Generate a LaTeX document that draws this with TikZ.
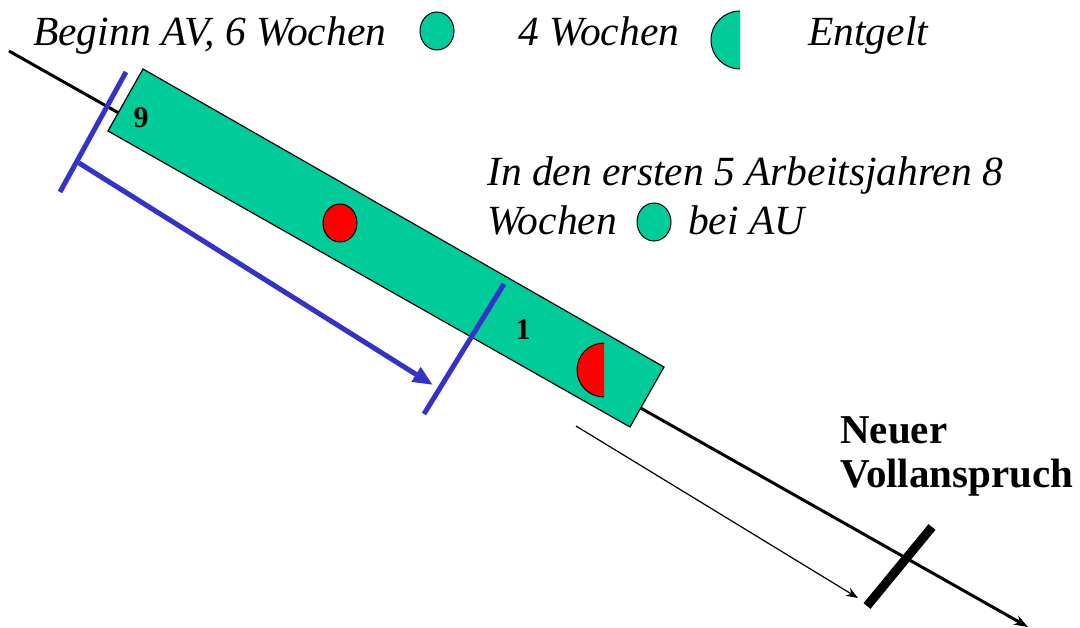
\documentclass[tikz,border=0pt]{standalone}
\usepackage{fontspec}
\setmainfont{Liberation Serif}
\usetikzlibrary{arrows.meta}
\definecolor{avgreen}{RGB}{0,204,153}
\definecolor{avblue}{RGB}{51,51,204}
\definecolor{avred}{RGB}{255,0,0}
\tikzset{
  itxt/.style={anchor=base west, inner sep=0pt, font=\fontsize{41.5}{48}\selectfont\itshape},
  btxt/.style={anchor=base west, inner sep=0pt, font=\fontsize{41}{48}\selectfont\bfseries},
  numtxt/.style={inner sep=0pt, font=\fontsize{30}{34}\selectfont\bfseries},
  timeline/.style={line width=3pt, -{Stealth[length=14pt,width=10pt]}},
  bluebar/.style={avblue, line width=5pt},
  dot/.style={draw=black, line width=1pt},
}
\begin{document}
\begin{tikzpicture}[x=1pt,y=-1pt]
\useasboundingbox (0,0) rectangle (1080,628);
% main time line
\coordinate (tstart) at (9,51);
\coordinate (tend) at (1028,627);
\draw[timeline] (tstart) -- (tend);
% green period bar
\coordinate (r1) at (143,69);
\coordinate (r2) at (664,367);
\coordinate (r3) at (630,427);
\coordinate (r4) at (108,131);
\draw[fill=avgreen, line width=1.2pt] (r1) -- (r2) -- (r3) -- (r4) -- cycle;
\node[numtxt] (n9) at (141,118) {9};
\node[numtxt] (n1) at (523,330) {1};
% red full circle
\draw[dot, fill=avred] (340,223) ellipse [x radius=17, y radius=19];
% red half circle
\fill[avred] (604,343) arc[start angle=270, end angle=90, radius=27] -- cycle;
\draw[line width=1pt] (604,343) arc[start angle=270, end angle=90, radius=27];
% blue bracket
\coordinate (b1a) at (126,72);
\coordinate (b1b) at (60,192);
\coordinate (b2a) at (504,284);
\coordinate (b2b) at (424,414);
\coordinate (bs) at (79,163);
\coordinate (be) at (433,385);
\draw[bluebar] (b1a) -- (b1b);
\draw[bluebar] (b2a) -- (b2b);
\draw[bluebar, -{Triangle[length=20pt,width=16pt]}] (bs) -- (be);
% thin arrow
\coordinate (as) at (576,426);
\coordinate (ae) at (858,598);
\draw[line width=1.2pt, -{Stealth[length=12pt,width=9pt]}] (as) -- (ae);
% thick tick
\coordinate (k1) at (932,527);
\coordinate (k2) at (867,606);
\draw[line width=9pt] (k1) -- (k2);
% legend
\node[itxt] (beginn) at (33,46) {Beginn AV, 6 Wochen};
\draw[dot, fill=avgreen] (437,31) ellipse [x radius=17, y radius=19];
\node[itxt] (vier) at (518,46) {4 Wochen};
\fill[avgreen] (740,11) arc[start angle=270, end angle=90, radius=29] -- cycle;
\draw[line width=1pt] (740,11) arc[start angle=270, end angle=90, radius=29];
\node[itxt] (entgelt) at (808,46) {Entgelt};
% note
\node[itxt] (in1) at (487,186) {In den ersten 5 Arbeitsjahren 8};
\node[itxt] (in2) at (487,235) {Wochen};
\draw[dot, fill=avgreen] (654,222) ellipse [x radius=17, y radius=19];
\node[itxt] (in3) at (688,235) {bei AU};
% new claim
\node[btxt] (neuer) at (840,443) {Neuer};
\node[btxt] (voll) at (840,488) {Vollanspruch};
\end{tikzpicture}
\end{document}
